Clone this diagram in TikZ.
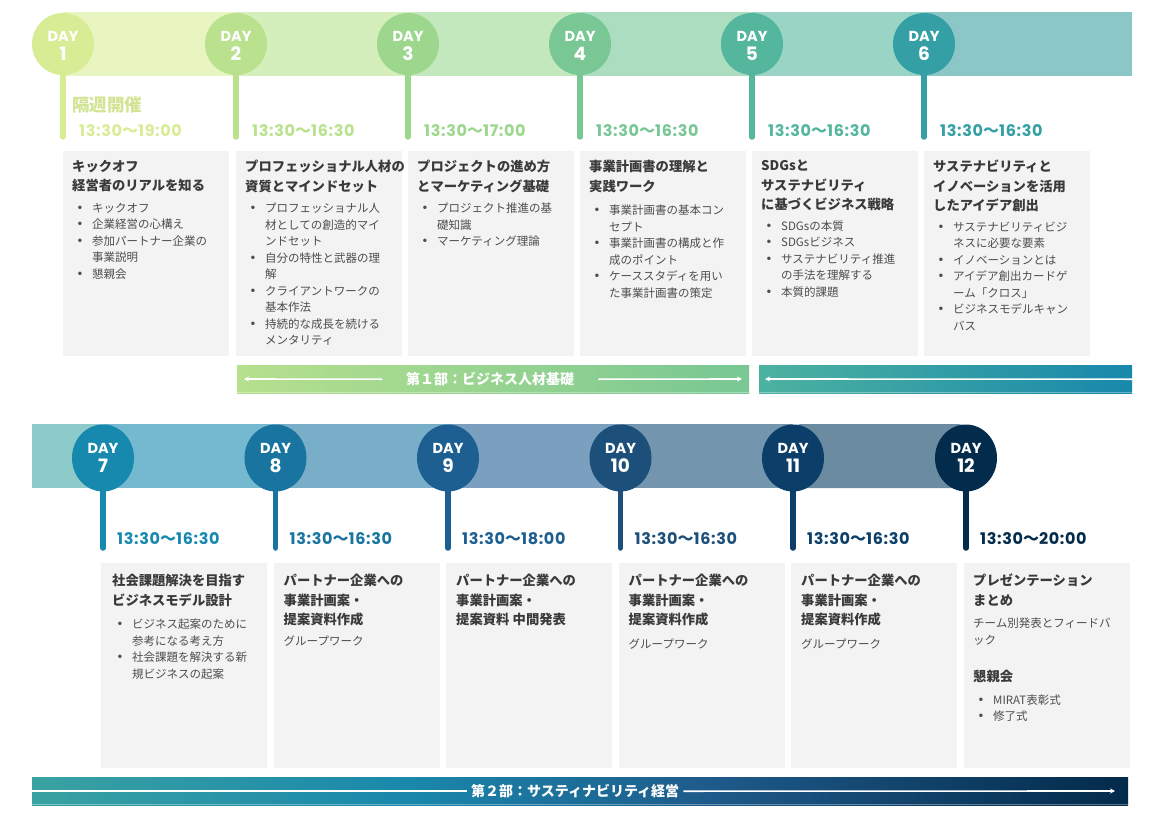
\documentclass[tikz,border=0pt]{standalone}
\usepackage{fontspec}
\usepackage{xcolor}
\setmainfont{Noto Sans CJK JP}
\newfontfamily\popfont{Poppins}
\newfontfamily\popwide{Poppins}[LetterSpace=4]
\usepackage{tikz}
\usetikzlibrary{arrows.meta, positioning, calc, shapes.geometric}

\definecolor{tsA}{HTML}{E8F5C1}
\definecolor{tsB}{HTML}{D5EFBC}
\definecolor{tsC}{HTML}{C4E8BE}
\definecolor{tsD}{HTML}{ADDDC1}
\definecolor{tsE}{HTML}{99D4C4}
\definecolor{tsF}{HTML}{8CC7C7}
\definecolor{bs0}{HTML}{8DCACA}
\definecolor{bs1}{HTML}{74B9CF}
\definecolor{bs2}{HTML}{79AEC8}
\definecolor{bs3}{HTML}{7A9FBF}
\definecolor{bs4}{HTML}{7396AE}
\definecolor{bs5}{HTML}{6A8BA0}
\definecolor{dA}{HTML}{D8EC96}
\definecolor{dB}{HTML}{BAE28E}
\definecolor{dC}{HTML}{9DD78D}
\definecolor{dD}{HTML}{78C795}
\definecolor{dE}{HTML}{53B69D}
\definecolor{dF}{HTML}{349FA4}
\definecolor{dG}{HTML}{1889AE}
\definecolor{dH}{HTML}{1975A0}
\definecolor{dI}{HTML}{1E5F91}
\definecolor{dJ}{HTML}{1C4F79}
\definecolor{dK}{HTML}{0B3E68}
\definecolor{dL}{HTML}{032B4B}
\definecolor{phA1}{HTML}{B6E08D}
\definecolor{phA2}{HTML}{78C794}
\definecolor{phB1}{HTML}{4CB2A0}
\definecolor{phB2}{HTML}{1888AC}
\definecolor{phC1}{HTML}{39A2A2}
\definecolor{phC2}{HTML}{1A88AC}
\definecolor{phC3}{HTML}{1E5A8A}
\definecolor{phC4}{HTML}{032A4A}
\definecolor{cardgray}{HTML}{F3F3F3}
\definecolor{ttlgray}{HTML}{3A3A3A}
\definecolor{bdygray}{HTML}{4D4D4D}
\definecolor{kakushu}{HTML}{D0E494}

\pgfdeclarehorizontalshading{phaseC}{100bp}{color(0bp)=(phC1); color(25bp)=(phC1); color(42bp)=(phC2); color(56bp)=(phC3); color(75bp)=(phC4); color(100bp)=(phC4)}

\newcommand{\wave}{{\rmfamily 〜}}
\newcommand{\ttl}{\fontsize{13.3}{19.5}\selectfont\bfseries\color{ttlgray}}
\newcommand{\bdy}{\fontsize{11.5}{16.5}\selectfont\mdseries\color{bdygray}}
\newcommand{\itm}{\makebox[20pt][l]{\hspace{5pt}{\popfont\fontsize{14}{14}\selectfont •}}}
\newcommand{\cnt}{\hspace*{20pt}}

\begin{document}
\begin{tikzpicture}[
    x=1pt, y=-1pt,
    daydot/.style={circle, minimum size=62pt, inner sep=0pt},
    dayoval/.style={ellipse, minimum width=62pt, minimum height=67pt, inner sep=0pt},
    stem/.style={line width=5.5pt, line cap=round},
    daytxt/.style={text=white, inner sep=0pt, font=\popfont\bfseries\fontsize{14.5}{16}\selectfont},
    daynum/.style={text=white, inner sep=0pt, font=\popfont\bfseries\fontsize{18.5}{20}\selectfont},
    timetxt/.style={anchor=west, inner sep=0pt, font=\popwide\bfseries\fontsize{16}{18}\selectfont},
    card/.style={fill=cardgray, minimum width=166pt, minimum height=205pt, anchor=north west, inner sep=0pt},
    cardtxt/.style={anchor=north west, inner sep=0pt, text width=160pt, align=left},
    phase/.style={minimum height=28pt, inner sep=0pt, anchor=north west},
    phasetxt/.style={text=white, inner sep=0pt, font=\bfseries\fontsize{14}{16}\selectfont},
    parr/.style={draw=white, line width=1.6pt, -{Stealth[length=5pt, width=5pt]}},
    rim/.style={fill=white, opacity=0.35}
]
\useasboundingbox (0,0) rectangle (1162,819);

% top band
\fill[tsA] (63,12) rectangle (236,76);
\fill[tsB] (236,12) rectangle (408,76);
\fill[tsC] (408,12) rectangle (580,76);
\fill[tsD] (580,12) rectangle (752,76);
\fill[tsE] (752,12) rectangle (924,76);
\fill[tsF] (924,12) rectangle (1132,76);

\foreach \i/\x/\c/\t in {1/63/dA/19:00, 2/236/dB/16:30, 3/408/dC/17:00, 4/580/dD/16:30, 5/752/dE/16:30, 6/924/dF/16:30}{
  \node[daydot, fill=\c] (d\i) at (\x,44) {};
  \coordinate (s\i) at (\x,137);
  \draw[stem, draw=\c] (d\i.south) -- (s\i);
  \node[daytxt] (dl\i) at (\x,36) {DAY};
  \node[daynum] (dn\i) at (\x,53.5) {\i};
  \node[timetxt, text=\c] (t\i) at (\x+16,131) {13:30\wave\t};
  \node[card] (b\i) at (\x,151) {};
}
\node[anchor=west, inner sep=0pt, text=kakushu, font=\bfseries\fontsize{17.5}{19}\selectfont] (bi) at (72,105) {隔週開催};

\node[cardtxt] (c1) [below right=9pt and 9pt of b1.north west] {\ttl キックオフ\\経営者のリアルを知る\par\vspace{5pt}\bdy
  \itm キックオフ\\\itm 企業経営の心構え\\\itm 参加パートナー企業の\\\cnt 事業説明\\\itm 懇親会\par};
\node[cardtxt] (c2) [below right=9pt and 9pt of b2.north west] {\ttl プロフェッショナル人材の\\資質とマインドセット\par\vspace{5pt}\bdy
  \itm プロフェッショナル人\\\cnt 材としての創造的マイ\\\cnt ンドセット\\\itm 自分の特性と武器の理\\\cnt 解\\\itm クライアントワークの\\\cnt 基本作法\\\itm 持続的な成長を続ける\\\cnt メンタリティ\par};
\node[cardtxt] (c3) [below right=9pt and 9pt of b3.north west] {\ttl プロジェクトの進め方\\とマーケティング基礎\par\vspace{5pt}\bdy
  \itm プロジェクト推進の基\\\cnt 礎知識\\\itm マーケティング理論\par};
\node[cardtxt] (c4) [below right=9pt and 9pt of b4.north west] {\ttl 事業計画書の理解と\\実践ワーク\par\vspace{7pt}\bdy
  \itm 事業計画書の基本コン\\\cnt セプト\\\itm 事業計画書の構成と作\\\cnt 成のポイント\\\itm ケーススタディを用い\\\cnt た事業計画書の策定\par};
\node[cardtxt] (c5) [below right=9pt and 9pt of b5.north west] {\ttl SDGsと\\サステナビリティ\\に基づくビジネス戦略\par\vspace{4pt}\bdy
  \itm SDGsの本質\\\itm SDGsビジネス\\\itm サステナビリティ推進\\\cnt の手法を理解する\\\itm 本質的課題\par};
\node[cardtxt] (c6) [below right=9pt and 9pt of b6.north west] {\ttl サステナビリティと\\イノベーションを活用\\したアイデア創出\par\vspace{4pt}\bdy
  \itm サステナビリティビジ\\\cnt ネスに必要な要素\\\itm イノベーションとは\\\itm アイデア創出カードゲ\\\cnt ーム「クロス」\\\itm ビジネスモデルキャン\\\cnt バス\par};

% part 1 bars
\node[phase, minimum width=512pt, left color=phA1, right color=phA2] (ph1) at (237,365) {};
\node[phase, minimum width=373pt, left color=phB1, right color=phB2] (ph2) at (759,365) {};
\fill[rim] (ph1.south west) rectangle ([yshift=1.5pt]ph1.south east);
\fill[rim] (ph2.south west) rectangle ([yshift=1.5pt]ph2.south east);
\node[phasetxt] (ph1t) at ([xshift=-3pt]ph1.center) {第１部：ビジネス人材基礎};
\coordinate (a1) at (244,379);
\coordinate (a2) at (742,379);
\coordinate (a3) at (765,379);
\draw[parr] ([xshift=-24pt]ph1t.west) -- (a1);
\draw[parr] ([xshift=24pt]ph1t.east) -- (a2);
\draw[parr] (ph2.east) -- (a3);

% bottom band
\fill[bs0] (32,424) rectangle (103,488);
\fill[bs1] (103,424) rectangle (275,488);
\fill[bs2] (275,424) rectangle (448,488);
\fill[bs3] (448,424) rectangle (620,488);
\fill[bs4] (620,424) rectangle (793,488);
\fill[bs5, rounded corners=8pt] (793,424) -- (966,424) -- (966,488) -- (793,488) -- cycle;

\foreach \i/\x/\c/\t in {7/103/dG/16:30, 8/275.5/dH/16:30, 9/448/dI/18:00, 10/620.5/dJ/16:30, 11/793/dK/16:30, 12/966/dL/20:00}{
  \node[dayoval, fill=\c] (d\i) at (\x,458) {};
  \coordinate (s\i) at (\x,548);
  \draw[stem, draw=\c] (d\i.south) -- (s\i);
  \node[daytxt] (dl\i) at (\x,448) {DAY};
  \node[daynum] (dn\i) at (\x,465.5) {\i};
  \node[timetxt, text=\c] (t\i) at (\x+14,539) {13:30\wave\t};
  \node[card] (b\i) at (\x-2,563) {};
}

\node[cardtxt] (c7) [below right=11pt and 11pt of b7.north west] {\ttl 社会課題解決を目指す\\ビジネスモデル設計\par\vspace{7pt}\bdy
  \itm ビジネス起案のために\\\cnt 参考になる考え方\\\itm 社会課題を解決する新\\\cnt 規ビジネスの起案\par};
\node[cardtxt] (c8) [below right=11pt and 10pt of b8.north west] {\ttl パートナー企業への\\事業計画案・\\提案資料作成\par\vspace{4pt}\bdy
  グループワーク\par};
\node[cardtxt] (c9) [below right=11pt and 10pt of b9.north west] {\ttl パートナー企業への\\事業計画案・\\提案資料 中間発表\par};
\node[cardtxt] (c10) [below right=11pt and 10pt of b10.north west] {\ttl パートナー企業への\\事業計画案・\\提案資料作成\par\vspace{7pt}\bdy
  グループワーク\par};
\node[cardtxt] (c11) [below right=11pt and 10pt of b11.north west] {\ttl パートナー企業への\\事業計画案・\\提案資料作成\par\vspace{7pt}\bdy
  グループワーク\par};
\node[cardtxt] (c12) [below right=11pt and 9pt of b12.north west] {\ttl プレゼンテーション\\まとめ\par\vspace{6pt}\bdy
  チーム別発表とフィードバ\\ック\par\vspace{18pt}\ttl 懇親会\par\vspace{6pt}\bdy
  \itm MIRAT表彰式\\\itm 修了式\par};

% part 2 bar
\node[phase, minimum width=1096pt, shade, shading=phaseC] (ph3) at (32,777) {};
\fill[rim] (ph3.south west) rectangle ([yshift=1.5pt]ph3.south east);
\node[phasetxt] (ph3t) at ([xshift=-5pt]ph3.center) {第２部：サスティナビリティ経営};
\coordinate (a4) at (1115,791);
\draw[draw=white, line width=1.6pt] (ph3.west) -- ([xshift=-4pt]ph3t.west);
\draw[parr] ([xshift=4pt]ph3t.east) -- (a4);
\end{tikzpicture}
\end{document}
